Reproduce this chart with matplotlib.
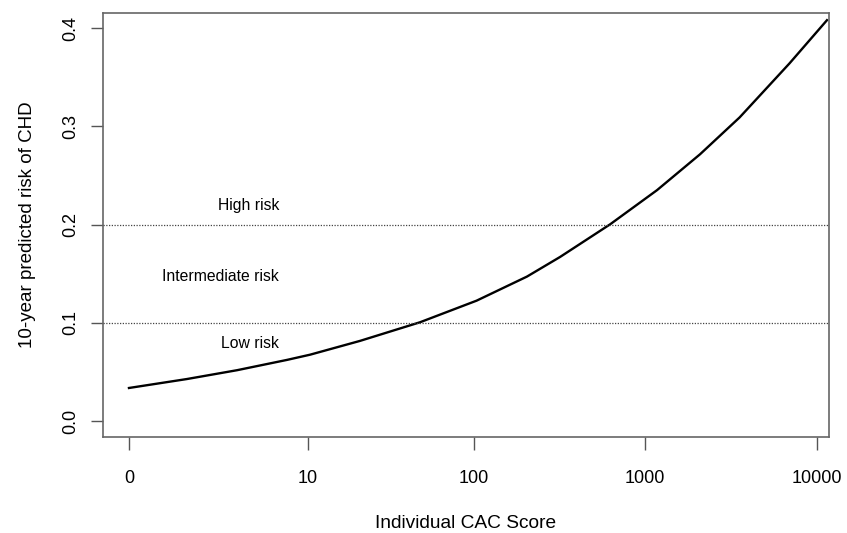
import numpy as np
import matplotlib
matplotlib.use('Agg')
import matplotlib.pyplot as plt

plt.rcParams['font.family'] = ['Liberation Sans', 'DejaVu Sans']

# CAC score vs 10-year predicted risk
cac_score = [0, 1.17, 3.25, 7.3, 10.3, 21.0, 48.2, 104, 205, 320, 626,
             1174, 2088, 3547, 6917, 11427]
chd_risk = [0.0336, 0.0427, 0.0517, 0.0622, 0.0675, 0.0815, 0.1005, 0.1225, 0.147,
            0.167, 0.2002, 0.235, 0.2715, 0.309, 0.364, 0.408]

x_ticks = [0, 10, 100, 1000, 10000]
x_tick_labels = ['0', '10', '100', '1000', '10000']
y_ticks = [0.0, 0.1, 0.2, 0.3, 0.4]
y_tick_labels = ['0.0', '0.1', '0.2', '0.3', '0.4']
risk_cutoffs = [0.1, 0.2]
zone_labels = ['High risk', 'Intermediate risk', 'Low risk']
zone_label_y = [0.2195, 0.1475, 0.079]

fig = plt.figure(figsize=(8.47, 5.33), dpi=100)
ax = fig.add_axes([0.1216, 0.1801, 0.8572, 0.7955])

# x axis is log10(CAC + 1)
ax.set_xscale('function', functions=(lambda v: np.log10(np.asarray(v) + 1),
                                     lambda v: 10 ** np.asarray(v) - 1))

ax.plot(cac_score, chd_risk, color='black', linewidth=1.7)
for c in risk_cutoffs:
    ax.axhline(c, color='#444444', linestyle=(0, (1, 1.2)), linewidth=0.9)

for lab, yy in zip(zone_labels, zone_label_y):
    ax.text(6.45, yy, lab, ha='right', va='center', fontsize=11.3)

ax.set_xlim(10 ** -0.151 - 1, 10 ** 4.07 - 1)
ax.set_ylim(-0.0163, 0.4153)

ax.set_xticks(x_ticks)
ax.set_xticklabels(x_tick_labels)
ax.set_yticks(y_ticks)
ax.set_yticklabels(y_tick_labels, rotation=90, va='center')
ax.minorticks_off()

ax.tick_params(axis='both', length=9, width=1, color='#555555', labelsize=13)
ax.tick_params(axis='x', pad=15)
ax.tick_params(axis='y', pad=8)
for s in ax.spines.values():
    s.set_color('#666666')
    s.set_linewidth(1.2)

ax.set_xlabel('Individual CAC Score', fontsize=13.8, labelpad=20)
ax.set_ylabel('10-year predicted risk of CHD', fontsize=13.5, labelpad=19)

fig.savefig('out.png', dpi=100)
